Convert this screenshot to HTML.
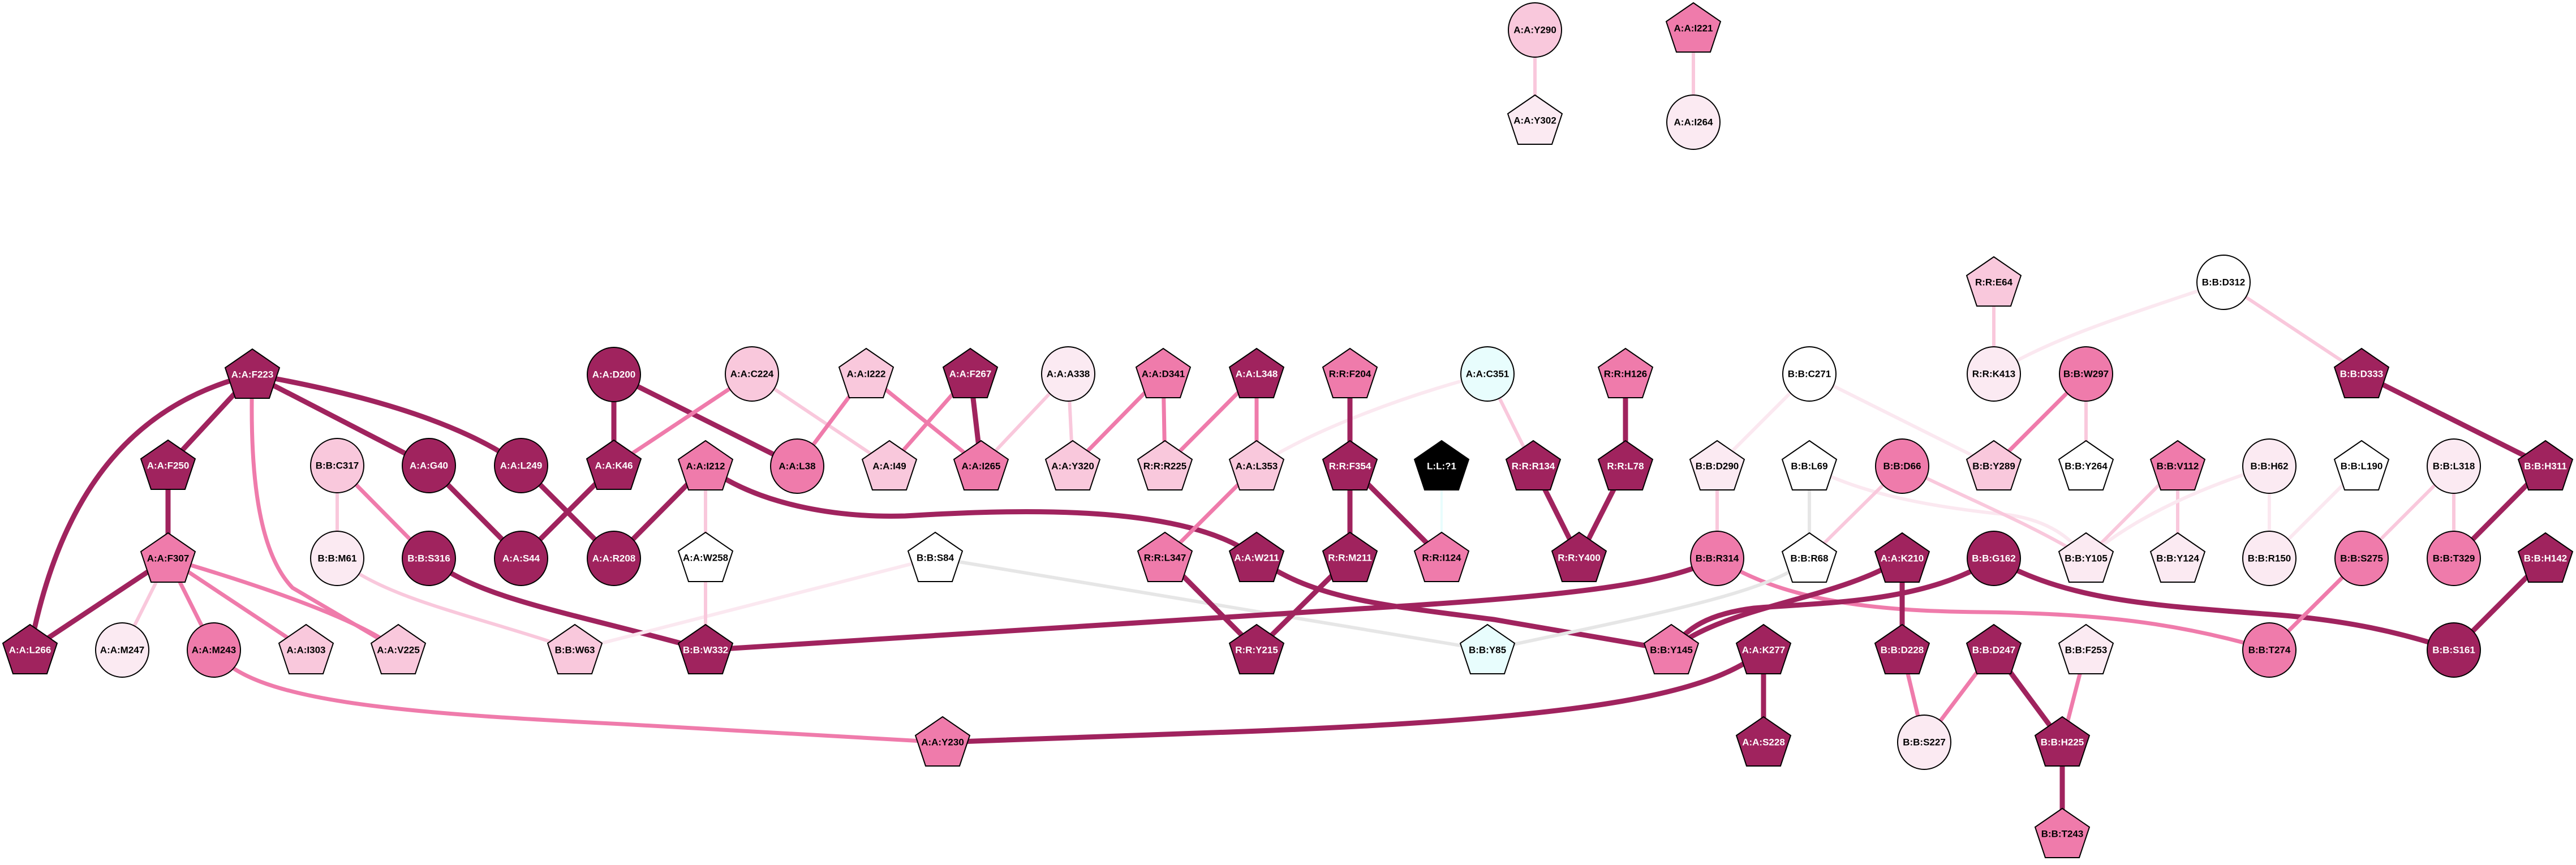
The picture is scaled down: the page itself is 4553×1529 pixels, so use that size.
<!DOCTYPE html>
<html><head><meta charset="utf-8"><style>
html,body{margin:0;padding:0;background:#fff;}
svg{display:block;}
text{font-family:"Liberation Sans",sans-serif;font-weight:bold;font-size:17px;text-anchor:middle;dominant-baseline:central;}
.w{fill:#fff}.k{fill:#000}
.ed{stroke:#A0235E;stroke-width:9;fill:none}
.em{stroke:#EF7BAB;stroke-width:7;fill:none}
.el{stroke:#F9C8DC;stroke-width:6;fill:none}
.ev{stroke:#FBE8F0;stroke-width:6;fill:none}
.eg{stroke:#E6E6E6;stroke-width:6;fill:none}
.ec{stroke:#E8FDFD;stroke-width:4;fill:none}
</style></head><body>
<svg width="4553" height="1529" viewBox="0 0 4553 1529" xmlns="http://www.w3.org/2000/svg">
<defs>
<path id="p" d="M0,-45 L48,-12 L30,42 L-30,42 L-48,-12 Z" stroke="#000" stroke-width="2"/>
<ellipse id="c" cx="0" cy="0" rx="47" ry="48" stroke="#000" stroke-width="2"/>
</defs>
<g>
<path class="el" d="M2713,53 L2713,213"/>
<path class="el" d="M2993,50 L2993,216"/>
<path class="ed" d="M446,662 L297,823"/>
<path class="ed" d="M446,662 C250,710 110,850 53,1149"/>
<path class="em" d="M446,662 C440,850 460,980 517,1039 L704,1149"/>
<path class="ed" d="M446,662 L758,823"/>
<path class="ed" d="M446,662 Q780,720 921,823"/>
<path class="ed" d="M297,823 L297,987"/>
<path class="ed" d="M297,987 L53,1149"/>
<path class="el" d="M297,987 L216,1149"/>
<path class="em" d="M297,987 L378,1149"/>
<path class="em" d="M297,987 L541,1149"/>
<path class="em" d="M297,987 Q620,1082 704,1149"/>
<path class="el" d="M596,823 L596,987"/>
<path class="em" d="M596,823 L758,987"/>
<path class="ed" d="M758,823 L921,987"/>
<path class="ed" d="M921,823 L1085,987"/>
<path class="ed" d="M1085,823 L921,987"/>
<path class="ed" d="M1085,662 L1085,823"/>
<path class="ed" d="M1085,662 L1409,824"/>
<path class="em" d="M1329,661 L1085,823"/>
<path class="el" d="M1329,661 L1572,824"/>
<path class="em" d="M1531,661 L1409,824"/>
<path class="em" d="M1531,661 L1734,824"/>
<path class="em" d="M1715,661 L1572,824"/>
<path class="ed" d="M1715,661 L1734,824"/>
<path class="el" d="M1888,661 L1734,824"/>
<path class="el" d="M1888,661 L1896,824"/>
<path class="em" d="M2056,661 L1896,824"/>
<path class="em" d="M2056,661 L2059,824"/>
<path class="em" d="M2221,661 L2059,824"/>
<path class="em" d="M2221,661 L2221,824"/>
<path class="ed" d="M1247,824 L1085,987"/>
<path class="el" d="M1247,824 L1247,986"/>
<path class="ed" d="M1247,824 C1350,900 1500,915 1600,912 C1800,900 2100,890 2221,986"/>
<path class="ed" d="M758,987 C850,1060 1000,1080 1247,1149"/>
<path class="el" d="M596,987 C680,1060 850,1090 1016,1149"/>
<path class="ev" d="M1016,1149 L1653,986"/>
<path class="el" d="M1247,986 L1247,1149"/>
<path class="eg" d="M1653,986 L2629,1149"/>
<path class="ed" d="M1247,1149 L2500,1070 C2800,1050 2950,1030 3035,987"/>
<path class="em" d="M378,1149 C440,1240 700,1260 1100,1280 L1666,1312"/>
<path class="ed" d="M1666,1312 L2200,1293 C2800,1270 3020,1230 3117,1149"/>
<path class="em" d="M2221,824 L2059,986"/>
<path class="ed" d="M2059,986 L2221,1149"/>
<path class="ev" d="M2629,661 C2480,700 2320,760 2221,824"/>
<path class="el" d="M2629,661 L2710,824"/>
<path class="ed" d="M2386,661 L2386,824"/>
<path class="ed" d="M2386,824 L2386,986"/>
<path class="ed" d="M2386,824 L2548,986"/>
<path class="ec" d="M2548,824 L2548,986"/>
<path class="ed" d="M2386,986 L2221,1149"/>
<path class="ed" d="M2221,986 C2320,1060 2450,1070 2640,1095 L2954,1149"/>
<path class="ed" d="M2873,661 L2873,824"/>
<path class="ed" d="M2710,824 L2791,986"/>
<path class="ed" d="M2873,824 L2791,986"/>
<path class="ev" d="M3198,661 L3035,824"/>
<path class="ev" d="M3198,661 L3524,824"/>
<path class="el" d="M3035,824 L3035,986"/>
<path class="eg" d="M3198,824 L3198,986"/>
<path class="ev" d="M3198,824 C3300,880 3450,900 3550,910 C3620,920 3660,950 3687,987"/>
<path class="el" d="M3362,824 L3198,986"/>
<path class="el" d="M3362,824 C3450,870 3600,930 3687,987"/>
<path class="em" d="M3035,987 C3150,1060 3300,1080 3500,1082 C3700,1084 3850,1100 4011,1149"/>
<path class="eg" d="M3198,987 C3130,1050 2900,1090 2629,1149"/>
<path class="ed" d="M3362,987 C3250,1060 3050,1070 2954,1149"/>
<path class="ed" d="M3362,987 L3362,1149"/>
<path class="ed" d="M3524,987 C3400,1070 3200,1065 3100,1075 C3020,1085 2980,1110 2954,1149"/>
<path class="ed" d="M3524,987 C3650,1060 3800,1070 4000,1085 C4150,1095 4250,1120 4337,1149"/>
<path class="ed" d="M3117,1149 L3117,1312"/>
<path class="el" d="M3524,499 L3524,661"/>
<path class="ev" d="M3930,499 C3750,560 3620,600 3524,661"/>
<path class="el" d="M3930,499 L4174,661"/>
<path class="ed" d="M4174,661 L4499,824"/>
<path class="em" d="M3687,661 L3524,824"/>
<path class="el" d="M3687,661 L3687,824"/>
<path class="el" d="M3849,824 L3687,987"/>
<path class="el" d="M3849,824 L3849,987"/>
<path class="ev" d="M4011,824 Q3800,890 3687,987"/>
<path class="ev" d="M4011,824 L4011,987"/>
<path class="ev" d="M4174,824 L4011,987"/>
<path class="el" d="M4337,824 L4174,987"/>
<path class="el" d="M4337,824 L4337,987"/>
<path class="ed" d="M4499,824 L4337,987"/>
<path class="em" d="M4174,987 L4011,1149"/>
<path class="ed" d="M4499,987 L4337,1149"/>
<path class="em" d="M3362,1149 L3401,1312"/>
<path class="em" d="M3524,1149 L3401,1312"/>
<path class="ed" d="M3524,1149 L3645,1312"/>
<path class="em" d="M3687,1149 L3645,1312"/>
<path class="ed" d="M3645,1312 L3645,1474"/>
</g>
<g>
<use href="#c" x="2713" y="53" fill="#F9C8DC"/><text x="2713" y="53">A:A:Y290</text>
<use href="#p" x="2713" y="213" fill="#FBEAF2"/><text x="2713" y="213">A:A:Y302</text>
<use href="#p" x="2993" y="50" fill="#EF7BAB"/><text x="2993" y="50">A:A:I221</text>
<use href="#c" x="2993" y="216" fill="#FBEAF2"/><text x="2993" y="216">A:A:I264</text>

<use href="#p" x="3524" y="499" fill="#F9C8DC"/><text x="3524" y="499">R:R:E64</text>
<use href="#c" x="3930" y="499" fill="#fff"/><text x="3930" y="499">B:B:D312</text>

<use href="#p" x="446" y="662" fill="#A0235E"/><text class="w" x="446" y="662">A:A:F223</text>
<use href="#c" x="1085" y="662" fill="#A0235E"/><text class="w" x="1085" y="662">A:A:D200</text>
<use href="#c" x="1329" y="661" fill="#F9C8DC"/><text x="1329" y="661">A:A:C224</text>
<use href="#p" x="1531" y="661" fill="#F9C8DC"/><text x="1531" y="661">A:A:I222</text>
<use href="#p" x="1715" y="661" fill="#A0235E"/><text class="w" x="1715" y="661">A:A:F267</text>
<use href="#c" x="1888" y="661" fill="#FBEAF2"/><text x="1888" y="661">A:A:A338</text>
<use href="#p" x="2056" y="661" fill="#EF7BAB"/><text x="2056" y="661">A:A:D341</text>
<use href="#p" x="2221" y="661" fill="#A0235E"/><text class="w" x="2221" y="661">A:A:L348</text>
<use href="#p" x="2386" y="661" fill="#EF7BAB"/><text x="2386" y="661">R:R:F204</text>
<use href="#c" x="2629" y="661" fill="#E8FDFD"/><text x="2629" y="661">A:A:C351</text>
<use href="#p" x="2873" y="661" fill="#EF7BAB"/><text x="2873" y="661">R:R:H126</text>
<use href="#c" x="3198" y="661" fill="#fff"/><text x="3198" y="661">B:B:C271</text>
<use href="#c" x="3524" y="661" fill="#FBEAF2"/><text x="3524" y="661">R:R:K413</text>
<use href="#c" x="3687" y="661" fill="#EF7BAB"/><text x="3687" y="661">B:B:W297</text>
<use href="#p" x="4174" y="661" fill="#A0235E"/><text class="w" x="4174" y="661">B:B:D333</text>

<use href="#p" x="297" y="823" fill="#A0235E"/><text class="w" x="297" y="823">A:A:F250</text>
<use href="#c" x="596" y="823" fill="#F9C8DC"/><text x="596" y="823">B:B:C317</text>
<use href="#c" x="758" y="823" fill="#A0235E"/><text class="w" x="758" y="823">A:A:G40</text>
<use href="#c" x="921" y="823" fill="#A0235E"/><text class="w" x="921" y="823">A:A:L249</text>
<use href="#p" x="1085" y="823" fill="#A0235E"/><text class="w" x="1085" y="823">A:A:K46</text>
<use href="#p" x="1247" y="824" fill="#EF7BAB"/><text x="1247" y="824">A:A:I212</text>
<use href="#c" x="1409" y="824" fill="#EF7BAB"/><text x="1409" y="824">A:A:L38</text>
<use href="#p" x="1572" y="824" fill="#F9C8DC"/><text x="1572" y="824">A:A:I49</text>
<use href="#p" x="1734" y="824" fill="#EF7BAB"/><text x="1734" y="824">A:A:I265</text>
<use href="#p" x="1896" y="824" fill="#F9C8DC"/><text x="1896" y="824">A:A:Y320</text>
<use href="#p" x="2059" y="824" fill="#F9C8DC"/><text x="2059" y="824">R:R:R225</text>
<use href="#p" x="2221" y="824" fill="#F9C8DC"/><text x="2221" y="824">A:A:L353</text>
<use href="#p" x="2386" y="824" fill="#A0235E"/><text class="w" x="2386" y="824">R:R:F354</text>
<use href="#p" x="2548" y="824" fill="#000"/><text class="w" x="2548" y="824">L:L:?1</text>
<use href="#p" x="2710" y="824" fill="#A0235E"/><text class="w" x="2710" y="824">R:R:R134</text>
<use href="#p" x="2873" y="824" fill="#A0235E"/><text class="w" x="2873" y="824">R:R:L78</text>
<use href="#p" x="3035" y="824" fill="#FBEAF2"/><text x="3035" y="824">B:B:D290</text>
<use href="#p" x="3198" y="824" fill="#fff"/><text x="3198" y="824">B:B:L69</text>
<use href="#c" x="3362" y="824" fill="#EF7BAB"/><text x="3362" y="824">B:B:D66</text>
<use href="#p" x="3524" y="824" fill="#F9C8DC"/><text x="3524" y="824">B:B:Y289</text>
<use href="#p" x="3687" y="824" fill="#fff"/><text x="3687" y="824">B:B:Y264</text>
<use href="#p" x="3849" y="824" fill="#EF7BAB"/><text x="3849" y="824">B:B:V112</text>
<use href="#c" x="4011" y="824" fill="#FBEAF2"/><text x="4011" y="824">B:B:H62</text>
<use href="#p" x="4174" y="824" fill="#fff"/><text x="4174" y="824">B:B:L190</text>
<use href="#c" x="4337" y="824" fill="#FBEAF2"/><text x="4337" y="824">B:B:L318</text>
<use href="#p" x="4499" y="824" fill="#A0235E"/><text class="w" x="4499" y="824">B:B:H311</text>

<use href="#p" x="297" y="987" fill="#EF7BAB"/><text x="297" y="987">A:A:F307</text>
<use href="#c" x="596" y="987" fill="#FBEAF2"/><text x="596" y="987">B:B:M61</text>
<use href="#c" x="758" y="987" fill="#A0235E"/><text class="w" x="758" y="987">B:B:S316</text>
<use href="#c" x="921" y="987" fill="#A0235E"/><text class="w" x="921" y="987">A:A:S44</text>
<use href="#c" x="1085" y="987" fill="#A0235E"/><text class="w" x="1085" y="987">A:A:R208</text>
<use href="#p" x="1247" y="986" fill="#fff"/><text x="1247" y="986">A:A:W258</text>
<use href="#p" x="1653" y="986" fill="#fff"/><text x="1653" y="986">B:B:S84</text>
<use href="#p" x="2059" y="986" fill="#EF7BAB"/><text x="2059" y="986">R:R:L347</text>
<use href="#p" x="2221" y="986" fill="#A0235E"/><text class="w" x="2221" y="986">A:A:W211</text>
<use href="#p" x="2386" y="986" fill="#A0235E"/><text class="w" x="2386" y="986">R:R:M211</text>
<use href="#p" x="2548" y="986" fill="#EF7BAB"/><text x="2548" y="986">R:R:I124</text>
<use href="#p" x="2791" y="986" fill="#A0235E"/><text class="w" x="2791" y="986">R:R:Y400</text>
<use href="#c" x="3035" y="987" fill="#EF7BAB"/><text x="3035" y="987">B:B:R314</text>
<use href="#p" x="3198" y="987" fill="#fff"/><text x="3198" y="987">B:B:R68</text>
<use href="#p" x="3362" y="987" fill="#A0235E"/><text class="w" x="3362" y="987">A:A:K210</text>
<use href="#c" x="3524" y="987" fill="#A0235E"/><text class="w" x="3524" y="987">B:B:G162</text>
<use href="#p" x="3687" y="987" fill="#FBEAF2"/><text x="3687" y="987">B:B:Y105</text>
<use href="#p" x="3849" y="987" fill="#FBEAF2"/><text x="3849" y="987">B:B:Y124</text>
<use href="#c" x="4011" y="987" fill="#FBEAF2"/><text x="4011" y="987">B:B:R150</text>
<use href="#c" x="4174" y="987" fill="#EF7BAB"/><text x="4174" y="987">B:B:S275</text>
<use href="#c" x="4337" y="987" fill="#EF7BAB"/><text x="4337" y="987">B:B:T329</text>
<use href="#p" x="4499" y="987" fill="#A0235E"/><text class="w" x="4499" y="987">B:B:H142</text>

<use href="#p" x="53" y="1149" fill="#A0235E"/><text class="w" x="53" y="1149">A:A:L266</text>
<use href="#c" x="216" y="1149" fill="#FBEAF2"/><text x="216" y="1149">A:A:M247</text>
<use href="#c" x="378" y="1149" fill="#EF7BAB"/><text x="378" y="1149">A:A:M243</text>
<use href="#p" x="541" y="1149" fill="#F9C8DC"/><text x="541" y="1149">A:A:I303</text>
<use href="#p" x="704" y="1149" fill="#F9C8DC"/><text x="704" y="1149">A:A:V225</text>
<use href="#p" x="1016" y="1149" fill="#F9C8DC"/><text x="1016" y="1149">B:B:W63</text>
<use href="#p" x="1247" y="1149" fill="#A0235E"/><text class="w" x="1247" y="1149">B:B:W332</text>
<use href="#p" x="2221" y="1149" fill="#A0235E"/><text class="w" x="2221" y="1149">R:R:Y215</text>
<use href="#p" x="2629" y="1149" fill="#E8FDFD"/><text x="2629" y="1149">B:B:Y85</text>
<use href="#p" x="2954" y="1149" fill="#EF7BAB"/><text x="2954" y="1149">B:B:Y145</text>
<use href="#p" x="3117" y="1149" fill="#A0235E"/><text class="w" x="3117" y="1149">A:A:K277</text>
<use href="#p" x="3362" y="1149" fill="#A0235E"/><text class="w" x="3362" y="1149">B:B:D228</text>
<use href="#p" x="3524" y="1149" fill="#A0235E"/><text class="w" x="3524" y="1149">B:B:D247</text>
<use href="#p" x="3687" y="1149" fill="#FBEAF2"/><text x="3687" y="1149">B:B:F253</text>
<use href="#c" x="4011" y="1149" fill="#EF7BAB"/><text x="4011" y="1149">B:B:T274</text>
<use href="#c" x="4337" y="1149" fill="#A0235E"/><text class="w" x="4337" y="1149">B:B:S161</text>

<use href="#p" x="1666" y="1312" fill="#EF7BAB"/><text x="1666" y="1312">A:A:Y230</text>
<use href="#p" x="3117" y="1312" fill="#A0235E"/><text class="w" x="3117" y="1312">A:A:S228</text>
<use href="#c" x="3401" y="1312" fill="#FBEAF2"/><text x="3401" y="1312">B:B:S227</text>
<use href="#p" x="3645" y="1312" fill="#A0235E"/><text class="w" x="3645" y="1312">B:B:H225</text>
<use href="#p" x="3645" y="1474" fill="#EF7BAB"/><text x="3645" y="1474">B:B:T243</text>
</g>
</svg>
</body></html>
